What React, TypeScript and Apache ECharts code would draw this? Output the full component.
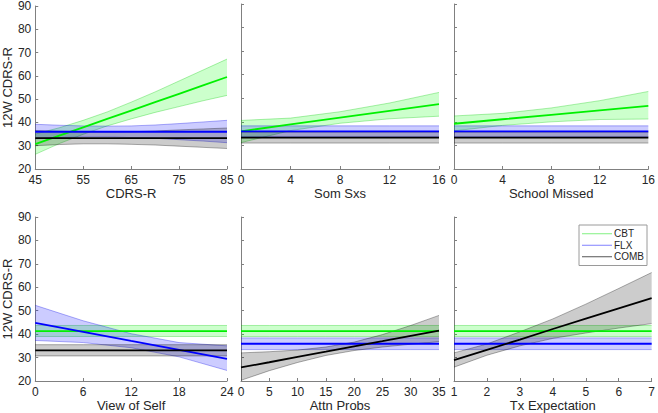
import React, { useEffect, useRef } from "react";
import * as echarts from "echarts";

// ---------- data ----------
const panelTitles = ["CDRS-R", "Som Sxs", "School Missed", "View of Self", "Attn Probs", "Tx Expectation"];
const xMins = [45, 0, 0, 0, 0, 1];
const xMaxs = [85, 16, 16, 24, 35, 7];
const xSteps = [10, 4, 4, 6, 5, 1];
const yTicks = [20, 30, 40, 50, 60, 70, 80, 90];
const groups = ["CBT", "FLX", "COMB"];

// x sample positions per panel
const xs0 = [45, 50, 55, 60, 65, 70, 75, 80, 85];
const xs1 = [0, 4, 8, 12, 16];
const xs2 = [0, 4, 8, 12, 16];
const xs3 = [0, 6, 12, 18, 24];
const xs4 = [0, 5, 10, 15, 20, 25, 30, 35];
const xs5 = [1, 2, 3, 4, 5, 6, 7];

// Panel 1: CDRS-R
const p0CbtMid = [30.7, 34.3, 37.9, 41.5, 45.1, 48.7, 52.3, 55.9, 59.5];
const p0CbtLo = [26.3, 30.9, 34.9, 38.5, 41.5, 44.3, 46.8, 49.3, 51.6];
const p0CbtHi = [35, 37.7, 40.9, 44.5, 48.7, 53.1, 57.8, 62.5, 67.2];
const p0FlxMid = [36, 36, 36, 36, 36, 36, 36, 36, 36];
const p0FlxLo = [33, 33.5, 33.8, 33.8, 33.5, 33.2, 32.6, 32, 31.3];
const p0FlxHi = [39.2, 38.8, 38.5, 38.4, 38.5, 38.9, 39.5, 40.2, 40.9];
const p0ComMid = [33.3, 33.3, 33.3, 33.3, 33.3, 33.3, 33.3, 33.3, 33.3];
const p0ComLo = [30, 30.5, 30.8, 30.8, 30.6, 30.3, 29.8, 29.3, 28.8];
const p0ComHi = [36.5, 36.2, 36, 35.9, 36, 36.3, 36.8, 37.2, 37.6];

// Panel 2: Som Sxs
const p1CbtMid = [36, 38.9, 41.8, 44.7, 47.5];
const p1CbtLo = [31.2, 36.3, 39.4, 41.3, 42.4];
const p1CbtHi = [40.6, 41.6, 44.3, 48, 52.5];
const p1FlxMid = [36, 36, 36, 36, 36];
const p1FlxLo = [33.8, 33.8, 33.8, 33.8, 33.8];
const p1FlxHi = [38.3, 38.3, 38.3, 38.3, 38.3];
const p1ComMid = [33.3, 33.3, 33.3, 33.3, 33.3];
const p1ComLo = [31, 31, 31, 31, 31];
const p1ComHi = [35.6, 35.6, 35.6, 35.6, 35.6];

// Panel 3: School Missed
const p2CbtMid = [39.2, 41.1, 43, 44.9, 46.8];
const p2CbtLo = [36.2, 38.5, 40, 41, 41.2];
const p2CbtHi = [42.5, 43.6, 45.9, 49, 52.9];
const p2FlxMid = [36, 36, 36, 36, 36];
const p2FlxLo = [33.8, 33.8, 33.8, 33.8, 33.8];
const p2FlxHi = [38.3, 38.3, 38.3, 38.3, 38.3];
const p2ComMid = [33.3, 33.3, 33.3, 33.3, 33.3];
const p2ComLo = [31, 31, 31, 31, 31];
const p2ComHi = [35.6, 35.6, 35.6, 35.6, 35.6];

// Panel 4: View of Self
const p3CbtMid = [41.3, 41.3, 41.3, 41.3, 41.3];
const p3CbtLo = [39, 39, 39, 39, 39];
const p3CbtHi = [43.7, 43.7, 43.7, 43.7, 43.7];
const p3FlxMid = [44.8, 41, 37.1, 33.3, 29.4];
const p3FlxLo = [37.3, 36.4, 34.2, 30.3, 24.5];
const p3FlxHi = [52.3, 45.7, 40.2, 36.4, 35];
const p3ComMid = [33.1, 33.1, 33.1, 33.1, 33.1];
const p3ComLo = [30.7, 30.7, 30.7, 30.7, 30.7];
const p3ComHi = [35.5, 35.5, 35.5, 35.5, 35.5];

// Panel 5: Attn Probs
const p4CbtMid = [41.3, 41.3, 41.3, 41.3, 41.3, 41.3, 41.3, 41.3];
const p4CbtLo = [39, 39, 39, 39, 39, 39, 39, 39];
const p4CbtHi = [43.7, 43.7, 43.7, 43.7, 43.7, 43.7, 43.7, 43.7];
const p4FlxMid = [35.9, 35.9, 35.9, 35.9, 35.9, 35.9, 35.9, 35.9];
const p4FlxLo = [33.4, 33.4, 33.4, 33.4, 33.4, 33.4, 33.4, 33.4];
const p4FlxHi = [38.4, 38.4, 38.4, 38.4, 38.4, 38.4, 38.4, 38.4];
const p4ComMid = [25.8, 28.0, 30.3, 32.5, 34.8, 37.0, 39.3, 41.5];
const p4ComLo = [20.3, 24.4, 27.9, 30.9, 33, 34.5, 35.7, 36.8];
const p4ComHi = [32, 32.5, 33.2, 34.5, 36.6, 39.8, 43.7, 48];

// Panel 6: Tx Expectation
const p5CbtMid = [41.3, 41.3, 41.3, 41.3, 41.3, 41.3, 41.3];
const p5CbtLo = [39, 39, 39, 39, 39, 39, 39];
const p5CbtHi = [43.7, 43.7, 43.7, 43.7, 43.7, 43.7, 43.7];
const p5FlxMid = [35.9, 35.9, 35.9, 35.9, 35.9, 35.9, 35.9];
const p5FlxLo = [33.4, 33.4, 33.4, 33.4, 33.4, 33.4, 33.4];
const p5FlxHi = [38.4, 38.4, 38.4, 38.4, 38.4, 38.4, 38.4];
const p5ComMid = [28.9, 33.3, 37.7, 42.2, 46.6, 51, 55.4];
const p5ComLo = [25.9, 31, 35, 38.2, 40.5, 42.6, 44.5];
const p5ComHi = [32, 35.8, 41, 46.5, 52.8, 59.5, 66.3];

const panelXs = [xs0, xs1, xs2, xs3, xs4, xs5];
const panelData = [
  [[p0CbtMid, p0CbtLo, p0CbtHi], [p0FlxMid, p0FlxLo, p0FlxHi], [p0ComMid, p0ComLo, p0ComHi]],
  [[p1CbtMid, p1CbtLo, p1CbtHi], [p1FlxMid, p1FlxLo, p1FlxHi], [p1ComMid, p1ComLo, p1ComHi]],
  [[p2CbtMid, p2CbtLo, p2CbtHi], [p2FlxMid, p2FlxLo, p2FlxHi], [p2ComMid, p2ComLo, p2ComHi]],
  [[p3CbtMid, p3CbtLo, p3CbtHi], [p3FlxMid, p3FlxLo, p3FlxHi], [p3ComMid, p3ComLo, p3ComHi]],
  [[p4CbtMid, p4CbtLo, p4CbtHi], [p4FlxMid, p4FlxLo, p4FlxHi], [p4ComMid, p4ComLo, p4ComHi]],
  [[p5CbtMid, p5CbtLo, p5CbtHi], [p5FlxMid, p5FlxLo, p5FlxHi], [p5ComMid, p5ComLo, p5ComHi]],
];

// ---------- styles ----------
const lineColors = ["#00f000", "#0000ff", "#000000"];
const fillColors = ["rgba(0,255,0,0.2)", "rgba(0,0,255,0.2)", "rgba(0,0,0,0.2)"];
const edgeColors = ["rgba(0,200,0,0.45)", "rgba(0,0,230,0.45)", "rgba(0,0,0,0.45)"];
const legendColors = ["#80f080", "#8080ff", "#555555"];
const FONT = "'Liberation Sans', Arial, Helvetica, sans-serif";
const TEXT = "#262626";
const AXIS = "#808080";

const gridLefts = [29, 241, 454];
const gridTops = [4, 217];
const GRID_W = 198;
const GRID_H = 165;

export default function App() {
  const ref = useRef<HTMLDivElement>(null);

  useEffect(() => {
    if (!ref.current) return;
    const chart = echarts.init(ref.current, null, { renderer: "svg" });

    const grids: any[] = [];
    const xAxes: any[] = [];
    const yAxes: any[] = [];
    const series: any[] = [];

    for (let p = 0; p < 6; p++) {
      const col = p % 3;
      const row = Math.floor(p / 3);
      grids.push({ left: gridLefts[col], top: gridTops[row], width: GRID_W, height: GRID_H });
      const off = xMins[p] % xSteps[p]; // shift so that min is a multiple of interval
      xAxes.push({
        type: "value",
        gridIndex: p,
        min: xMins[p] - off,
        max: xMaxs[p] - off,
        interval: xSteps[p],
        name: panelTitles[p],
        nameLocation: "middle",
        nameGap: 18,
        nameTextStyle: { fontFamily: FONT, fontSize: 13, color: TEXT },
        axisLine: { show: true, onZero: false, lineStyle: { color: AXIS, width: 1 } },
        axisTick: { show: true, inside: true, length: 3, lineStyle: { color: AXIS } },
        axisLabel: {
          fontFamily: FONT,
          fontSize: 12,
          color: TEXT,
          margin: 5,
          formatter: (v: number) => String(Math.round(v + off)),
        },
        splitLine: { show: false },
      });
      yAxes.push({
        type: "value",
        gridIndex: p,
        min: yTicks[0],
        max: yTicks[yTicks.length - 1],
        interval: 10,
        name: col === 0 ? "12W CDRS-R" : "",
        nameLocation: "middle",
        nameGap: 16,
        nameTextStyle: { fontFamily: FONT, fontSize: 13, color: TEXT },
        axisLine: { show: true, lineStyle: { color: AXIS, width: 1 } },
        axisTick: { show: true, inside: true, length: 3, lineStyle: { color: AXIS } },
        axisLabel: {
          show: col === 0,
          fontFamily: FONT,
          fontSize: 12,
          color: TEXT,
          margin: 4,
        },
        splitLine: { show: false },
      });

      const xsShift = panelXs[p].map((x) => x - off);
      // confidence bands (custom polygons drawn through the axes)
      for (let g = 0; g < 3; g++) {
        const [, lo, hi] = panelData[p][g];
        series.push({
          type: "custom",
          name: `${groups[g]} band ${p}`,
          xAxisIndex: p,
          yAxisIndex: p,
          silent: true,
          clip: true,
          z: 1,
          data: xsShift.map((x, i) => [x, lo[i], hi[i]]),
          encode: { x: 0, y: [1, 2] },
          renderItem: (params: any, api: any) => {
            if (params.dataIndex !== 0) return null;
            const lowerPts = xsShift.map((x, i) => api.coord([x, lo[i]]));
            const upperPts = xsShift.map((x, i) => api.coord([x, hi[i]]));
            const poly = lowerPts.concat(upperPts.slice().reverse());
            return {
              type: "group",
              children: [
                { type: "polygon", shape: { points: poly }, style: { fill: fillColors[g], stroke: null } },
                { type: "polyline", shape: { points: lowerPts }, style: { fill: null, stroke: edgeColors[g], lineWidth: 0.7 } },
                { type: "polyline", shape: { points: upperPts }, style: { fill: null, stroke: edgeColors[g], lineWidth: 0.7 } },
              ],
            };
          },
        });
      }
      // main lines
      for (let g = 0; g < 3; g++) {
        const [mid] = panelData[p][g];
        series.push({
          type: "line",
          name: groups[g],
          xAxisIndex: p,
          yAxisIndex: p,
          symbol: "none",
          silent: true,
          data: xsShift.map((x, i) => [x, mid[i]]),
          lineStyle: { color: lineColors[g], width: 1.8 },
          itemStyle: { color: legendColors[g] },
          z: 3,
        });
      }
    }

    chart.setOption({
      animation: false,
      backgroundColor: "#ffffff",
      grid: grids,
      xAxis: xAxes,
      yAxis: yAxes,
      series,
      legend: {
        orient: "vertical",
        left: 579,
        top: 225,
        padding: [3, 3, 3, 3],
        itemGap: 0,
        itemWidth: 30,
        itemHeight: 1,
        icon: "rect",
        selectedMode: false,
        backgroundColor: "#ffffff",
        borderColor: "#9a9a9a",
        borderWidth: 1,
        borderRadius: 0,
        textStyle: { fontFamily: FONT, fontSize: 10, color: TEXT, lineHeight: 11.5, padding: [0, 0, 0, -3] },
        data: groups.map((g, i) => ({ name: g, itemStyle: { color: legendColors[i] } })),
      },
    });

    return () => chart.dispose();
  }, []);

  return (
    <div
      ref={ref}
      style={{ position: "absolute", left: 0, top: 0, width: 658, height: 413 }}
    />
  );
}
